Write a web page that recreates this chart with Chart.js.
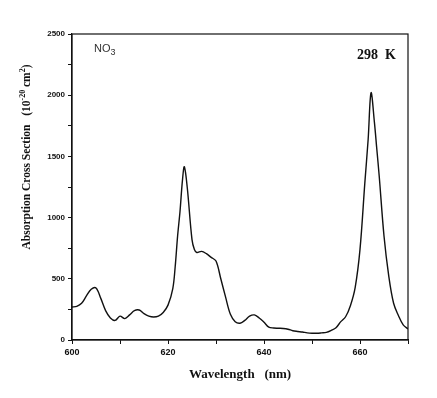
<!DOCTYPE html>
<html>
<head>
<meta charset="utf-8">
<script src="https://cdn.jsdelivr.net/npm/chart.js@4"></script>
<style>
  html, body { margin: 0; padding: 0; background: #fff; }
  #wrap { width: 437px; height: 398px; }
</style>
</head>
<body>
<div id="wrap"><canvas id="spectrum"></canvas></div>
<script>
// Espectro de absorción NO3 a 298 K
const wavelengths = [600, 601, 602, 603, 604, 605, 606, 607, 608, 609,
    610, 611, 612, 613, 614, 615, 616, 617, 618, 619,
    620, 621, 621.5, 622, 622.5, 623, 623.4, 624, 625, 625.5,
    626, 627, 628, 629, 630, 631, 632, 633, 634, 635,
    636, 637, 638, 639, 640, 641, 642, 643, 644, 645,
    646, 647, 648, 649, 650, 651, 652, 653, 654, 655,
    656, 657, 658, 659, 660, 661, 661.7, 662.3, 663, 663.5,
    664, 665, 666, 667, 668, 669, 670];
const crossSection = [270, 275, 300, 360, 415, 425, 340, 240, 180, 160,
    195, 175, 205, 240, 245, 215, 195, 188, 195, 225,
    285, 420, 600, 850, 1050, 1300, 1415, 1250, 820, 740,
    715, 724, 705, 675, 645, 500, 350, 210, 150, 137,
    160, 195, 205, 180, 145, 105, 98, 96, 94, 88,
    76, 70, 65, 58, 55, 55, 58, 62, 78, 100,
    150, 190, 280, 430, 740, 1280, 1640, 2020, 1780, 1560,
    1340, 850, 520, 300, 200, 123, 90];
const xTicks = [600, 620, 640, 660];
const yTicks = [0, 500, 1000, 1500, 2000, 2500];

const serie = wavelengths.map((w, i) => ({ x: w, y: crossSection[i] }));

// Textos de la figura: marco, título del eje Y con superíndices, NO3 y 298 K
const textosFigura = {
    id: 'textosFigura',
    afterDraw(chart) {
        const { ctx, chartArea: a } = chart;
        ctx.save();
        ctx.strokeStyle = '#111';
        ctx.lineWidth = 1.2;
        ctx.strokeRect(a.left, a.top, a.right - a.left, a.bottom - a.top);

        // NO3
        ctx.textBaseline = 'alphabetic';
        ctx.textAlign = 'left';
        ctx.font = '11px "Liberation Sans", Arial, sans-serif';
        ctx.fillStyle = '#333';
        ctx.fillText('NO', a.left + 22, a.top + 18);
        let w = ctx.measureText('NO').width;
        ctx.font = '9px "Liberation Sans", Arial, sans-serif';
        ctx.fillText('3', a.left + 22 + w, a.top + 21);

        // 298 K
        ctx.fillStyle = '#111';
        ctx.font = 'bold 14px "Liberation Serif", "Times New Roman", serif';
        ctx.textAlign = 'right';
        ctx.fillText('298  K', a.right - 12, a.top + 25);

        // Título eje Y (rotado)
        const partes = [
            { t: 'Absorption Cross Section   (10', sup: false },
            { t: '-20', sup: true },
            { t: ' cm', sup: false },
            { t: '2', sup: true },
            { t: ')', sup: false }
        ];
        const fNormal = 'bold 11.5px "Liberation Serif", "Times New Roman", serif';
        const fSup = 'bold 8px "Liberation Serif", "Times New Roman", serif';
        let total = 0;
        partes.forEach(p => {
            ctx.font = p.sup ? fSup : fNormal;
            p.w = ctx.measureText(p.t).width;
            total += p.w;
        });
        ctx.translate(30, 157);
        ctx.rotate(-Math.PI / 2);
        ctx.textAlign = 'left';
        let xPos = -total / 2;
        partes.forEach(p => {
            ctx.font = p.sup ? fSup : fNormal;
            ctx.fillText(p.t, xPos, p.sup ? -5 : 0);
            xPos += p.w;
        });
        ctx.restore();
    }
};

const chart = new Chart(document.getElementById('spectrum').getContext('2d'), {
    type: 'line',
    data: {
        datasets: [{
            label: 'NO3',
            data: serie,
            borderColor: '#111',
            borderWidth: 1.4,
            pointRadius: 0,
            fill: false,
            tension: 0.35
        }]
    },
    options: {
        responsive: true,
        maintainAspectRatio: false,
        animation: false,
        layout: { padding: { top: 34, right: 29, left: 0, bottom: 0 } },
        plugins: {
            legend: { display: false },
            tooltip: { enabled: false }
        },
        scales: {
            x: {
                type: 'linear',
                min: 600,
                max: 670,
                afterFit(scale) { scale.height = 58; },
                grid: {
                    drawOnChartArea: false,
                    color: '#111',
                    tickLength: 4,
                    tickWidth: 1
                },
                border: { display: true, color: '#111', width: 1.2 },
                ticks: {
                    stepSize: 10,
                    autoSkip: false,
                    maxRotation: 0,
                    color: '#111',
                    padding: 3,
                    font: { family: '"Liberation Sans", Arial, sans-serif', size: 9, weight: 'bold' },
                    callback: function(value) {
                        return xTicks.includes(value) ? value : '';
                    }
                },
                title: {
                    display: true,
                    text: 'Wavelength   (nm)',
                    color: '#111',
                    padding: { top: 3, bottom: 16 },
                    font: { family: '"Liberation Serif", "Times New Roman", serif', size: 13, weight: 'bold' }
                }
            },
            y: {
                min: 0,
                max: 2500,
                afterFit(scale) { scale.width = 72; },
                grid: {
                    drawOnChartArea: false,
                    color: '#111',
                    tickLength: 4,
                    tickWidth: 1
                },
                border: { display: true, color: '#111', width: 1.2 },
                ticks: {
                    stepSize: 250,
                    autoSkip: false,
                    color: '#111',
                    padding: 3,
                    font: { family: '"Liberation Sans", Arial, sans-serif', size: 8, weight: 'bold' },
                    callback: function(value) {
                        return yTicks.includes(value) ? value : '';
                    }
                }
            }
        }
    },
    plugins: [textosFigura]
});
</script>
</body>
</html>
